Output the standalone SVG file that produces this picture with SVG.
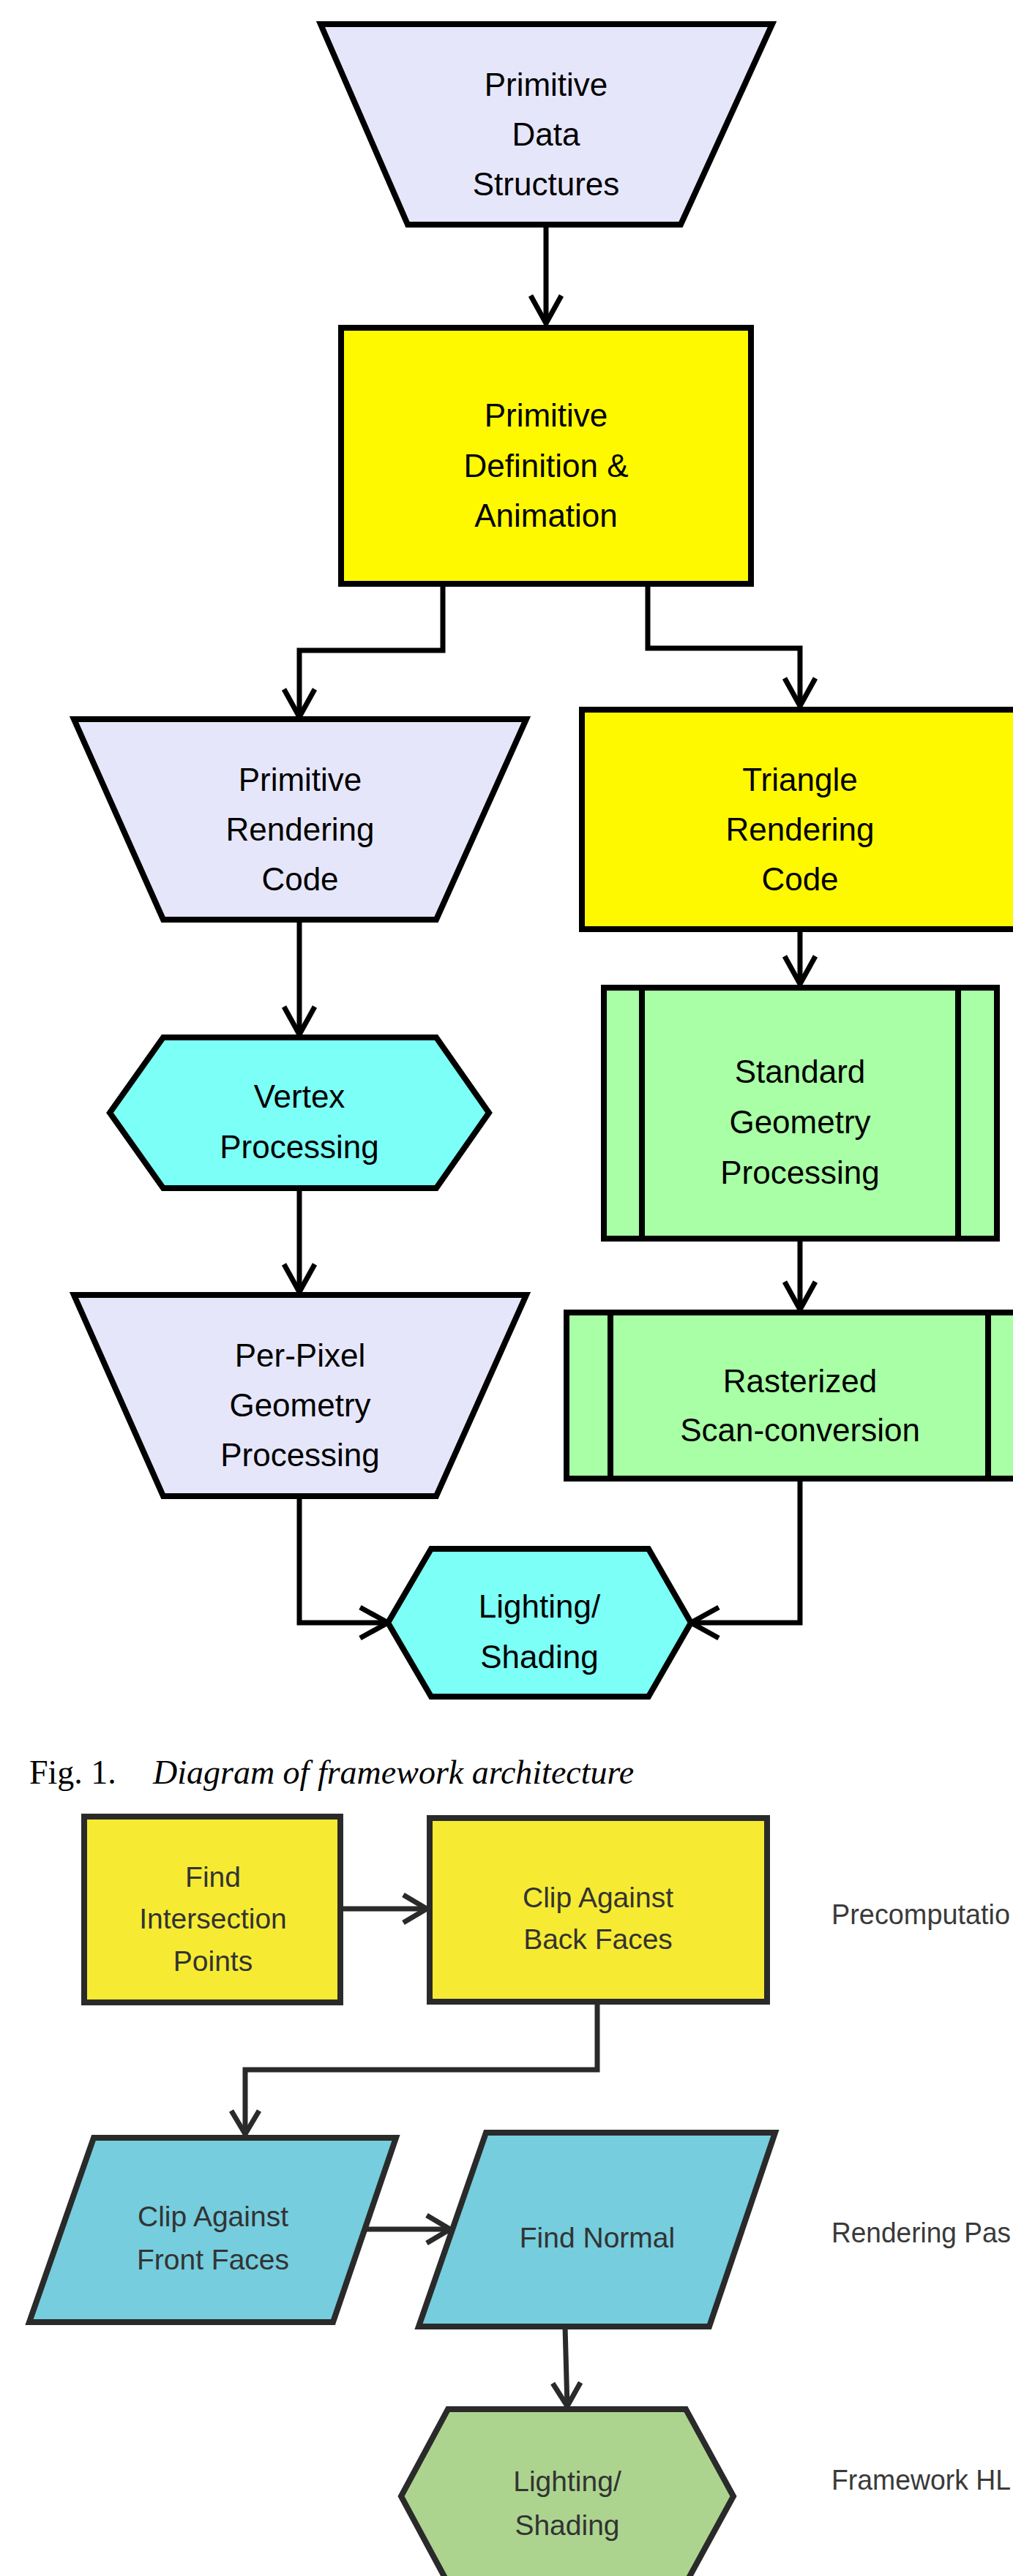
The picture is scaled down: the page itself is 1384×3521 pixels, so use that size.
<svg xmlns="http://www.w3.org/2000/svg" width="1384" height="3521" viewBox="0 0 1384 3521">
<defs>
<style>
.s1{stroke:#000;stroke-width:8;stroke-linejoin:miter}
.s2{stroke:#2a2a2a;stroke-width:8;stroke-linejoin:miter}
.lav{fill:#E6E6FA}
.yel{fill:#FFF900}
.cyn{fill:#7CFFF6}
.grn{fill:#A8FFA5}
.yel2{fill:#F6EB32}
.blu{fill:#75CDDD}
.grn2{fill:#ACD48F}
.t1{font-family:"Liberation Sans",Arial,sans-serif;font-size:44px;fill:#000;text-anchor:middle}
.t2{font-family:"Liberation Sans",Arial,sans-serif;font-size:39px;fill:#333;text-anchor:middle}
.t3{font-family:"Liberation Sans",Arial,sans-serif;font-size:39px;fill:#3a3a3a}
.cap{font-family:"Liberation Serif","Times New Roman",serif;font-size:46px;fill:#000}
.c1{fill:none;stroke:#000;stroke-width:7}
.c2{fill:none;stroke:#2a2a2a;stroke-width:7}
</style>
<marker id="a1" markerUnits="userSpaceOnUse" markerWidth="60" markerHeight="60" viewBox="-50 -30 60 60" refX="0" refY="0" orient="auto" overflow="visible">
<path d="M-38,-21 L0,0 L-38,21" fill="none" stroke="#000" stroke-width="7"/>
</marker>
<marker id="a2" markerUnits="userSpaceOnUse" markerWidth="60" markerHeight="60" viewBox="-50 -30 60 60" refX="0" refY="0" orient="auto" overflow="visible">
<path d="M-32,-19 L0,0 L-32,19" fill="none" stroke="#2a2a2a" stroke-width="7"/>
</marker>
</defs>
<rect x="0" y="0" width="1384" height="3521" fill="#fff"/>

<g id="connectors">
<polyline class="c1" points="746,308 746,442" marker-end="url(#a1)"/>
<polyline class="c1" points="605,802 605,889 409,889 409,980" marker-end="url(#a1)"/>
<polyline class="c1" points="885,802 885,886 1093,886 1093,965" marker-end="url(#a1)"/>
<polyline class="c1" points="409,1257 409,1414" marker-end="url(#a1)"/>
<polyline class="c1" points="1093,1272 1093,1345" marker-end="url(#a1)"/>
<polyline class="c1" points="409,1624 409,1766" marker-end="url(#a1)"/>
<polyline class="c1" points="1093,1694 1093,1790" marker-end="url(#a1)"/>
<polyline class="c1" points="409,2045 409,2218 530,2218" marker-end="url(#a1)"/>
<polyline class="c1" points="1093,2021 1093,2218 944,2218" marker-end="url(#a1)"/>
<polyline class="c2" points="469,2609 583,2609" marker-end="url(#a2)"/>
<polyline class="c2" points="816,2736 816,2829 335,2829 335,2917" marker-end="url(#a2)"/>
<polyline class="c2" points="498,3047 615,3047" marker-end="url(#a2)"/>
<polyline class="c2" points="772,3180 775,3289" marker-end="url(#a2)"/>
</g>

<g id="n-primitive-data">
<polygon class="s1 lav" points="438,33 1055,33 930,307 557,307"/>
<text class="t1" x="746" y="131">Primitive</text>
<text class="t1" x="746" y="199">Data</text>
<text class="t1" x="746" y="267">Structures</text>
</g>

<g id="n-primitive-def">
<rect class="s1 yel" x="466" y="448" width="560" height="350"/>
<text class="t1" x="746" y="583">Primitive</text>
<text class="t1" x="746" y="652">Definition &amp;</text>
<text class="t1" x="746" y="720">Animation</text>
</g>

<g id="n-primitive-render">
<polygon class="s1 lav" points="101,983 719,983 596,1257 223,1257"/>
<text class="t1" x="410" y="1081">Primitive</text>
<text class="t1" x="410" y="1149">Rendering</text>
<text class="t1" x="410" y="1217">Code</text>
</g>

<g id="n-triangle-render">
<rect class="s1 yel" x="795" y="970" width="596" height="300"/>
<text class="t1" x="1093" y="1081">Triangle</text>
<text class="t1" x="1093" y="1149">Rendering</text>
<text class="t1" x="1093" y="1217">Code</text>
</g>

<g id="n-standard-geom">
<rect class="s1 grn" x="825" y="1350" width="537" height="343"/>
<line class="s1" x1="877" y1="1350" x2="877" y2="1693"/>
<line class="s1" x1="1309" y1="1350" x2="1309" y2="1693"/>
<text class="t1" x="1093" y="1480">Standard</text>
<text class="t1" x="1093" y="1549">Geometry</text>
<text class="t1" x="1093" y="1618">Processing</text>
</g>

<g id="n-vertex">
<polygon class="s1 cyn" points="223,1418 596,1418 668,1521 596,1624 223,1624 150,1521"/>
<text class="t1" x="409" y="1514">Vertex</text>
<text class="t1" x="409" y="1583">Processing</text>
</g>

<g id="n-perpixel">
<polygon class="s1 lav" points="101,1770 719,1770 596,2045 223,2045"/>
<text class="t1" x="410" y="1868">Per-Pixel</text>
<text class="t1" x="410" y="1936">Geometry</text>
<text class="t1" x="410" y="2004">Processing</text>
</g>

<g id="n-rasterized">
<rect class="s1 grn" x="774" y="1794" width="636" height="227"/>
<line class="s1" x1="834" y1="1794" x2="834" y2="2021"/>
<line class="s1" x1="1350" y1="1794" x2="1350" y2="2021"/>
<text class="t1" x="1093" y="1903">Rasterized</text>
<text class="t1" x="1093" y="1970">Scan-conversion</text>
</g>

<g id="n-lighting1">
<polygon class="s1 cyn" points="589,2117 886,2117 944,2218 886,2319 589,2319 530,2218"/>
<text class="t1" x="737" y="2211">Lighting/</text>
<text class="t1" x="737" y="2280">Shading</text>
</g>

<g id="caption">
<text class="cap" x="40" y="2438">Fig. 1.</text>
<text class="cap" x="209" y="2438" font-style="italic">Diagram of framework architecture</text>
</g>

<g id="n-find-intersection">
<rect class="s2 yel2" x="115" y="2483" width="350" height="254"/>
<text class="t2" x="291" y="2579">Find</text>
<text class="t2" x="291" y="2636">Intersection</text>
<text class="t2" x="291" y="2694">Points</text>
</g>

<g id="n-clip-back">
<rect class="s2 yel2" x="587" y="2485" width="461" height="251"/>
<text class="t2" x="817" y="2607">Clip Against</text>
<text class="t2" x="817" y="2664">Back Faces</text>
</g>

<g id="n-clip-front">
<polygon class="s2 blu" points="128,2922 541,2922 455,3174 40,3174"/>
<text class="t2" x="291" y="3043">Clip Against</text>
<text class="t2" x="291" y="3102">Front Faces</text>
</g>

<g id="n-find-normal">
<polygon class="s2 blu" points="664,2915 1059,2915 969,3180 572,3180"/>
<text class="t2" x="816" y="3072">Find Normal</text>
</g>

<g id="n-lighting2">
<polygon class="s2 grn2" points="612,3293 937,3293 1002,3412 937,3531 612,3531 548,3412"/>
<text class="t2" x="775" y="3405">Lighting/</text>
<text class="t2" x="775" y="3465">Shading</text>
</g>

<g id="labels">
<text class="t3" x="1136" y="2630" textLength="244" lengthAdjust="spacingAndGlyphs">Precomputatio</text>
<text class="t3" x="1136" y="3065" textLength="245" lengthAdjust="spacingAndGlyphs">Rendering Pas</text>
<text class="t3" x="1136" y="3403" textLength="245" lengthAdjust="spacingAndGlyphs">Framework HL</text>
</g>
</svg>
